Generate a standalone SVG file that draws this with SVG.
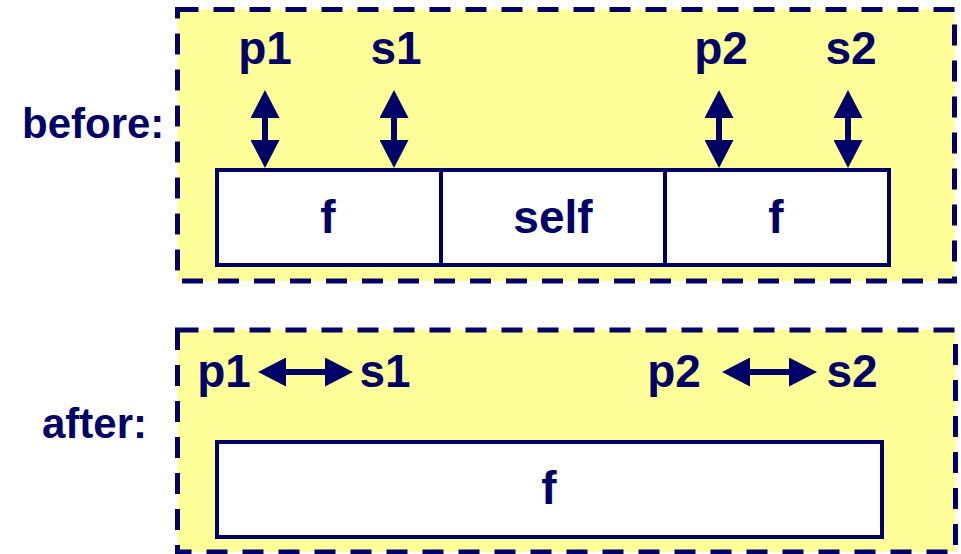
<svg xmlns="http://www.w3.org/2000/svg" width="961" height="554" viewBox="0 0 961 554">
<defs>
<style>
.panel{fill:#FFFF99;stroke:#000066;stroke-width:5;stroke-dasharray:21 15}
.box{fill:#FFFFFF;stroke:#000066;stroke-width:4}
.t{font-family:"Liberation Sans",Arial,sans-serif;font-weight:bold;font-size:46px;fill:#000066}
.s{font-size:42px}
.m{text-anchor:middle}
.conn{stroke:#000066;stroke-width:6;fill:none;marker-start:url(#ah);marker-end:url(#ah)}
</style>
<marker id="ah" viewBox="0 0 28 29" refX="18" refY="14.5" markerWidth="28" markerHeight="29" markerUnits="userSpaceOnUse" orient="auto-start-reverse">
<path d="M0,0 L28,14.5 L0,29 z" fill="#000066"/>
</marker>
</defs>
<rect width="961" height="554" fill="#FFFFFF"/>
<g id="panel-before">
<rect class="panel" x="177.5" y="9.5" width="777" height="271.5"/>
</g>
<g id="panel-after">
<rect class="panel" x="177.5" y="330" width="778" height="222"/>
</g>
<g id="label-before"><text class="t s" x="22" y="138">before:</text></g>
<g id="label-after"><text class="t s" x="42" y="438">after:</text></g>
<g id="box-f1"><rect class="box" x="217" y="170" width="224" height="95"/><text class="t m" x="328" y="233">f</text></g>
<g id="box-self"><rect class="box" x="441" y="170" width="224" height="95"/><text class="t m" x="553" y="233">self</text></g>
<g id="box-f2"><rect class="box" x="665" y="170" width="224" height="95"/><text class="t m" x="776" y="233">f</text></g>
<g id="box-f-after"><rect class="box" x="217" y="442" width="665" height="95"/><text class="t m" x="549" y="504">f</text></g>
<g id="lbl-p1-before"><text class="t m" x="265" y="64">p1</text></g>
<g id="lbl-s1-before"><text class="t m" x="396" y="64">s1</text></g>
<g id="lbl-p2-before"><text class="t m" x="721" y="64">p2</text></g>
<g id="lbl-s2-before"><text class="t m" x="851" y="64">s2</text></g>
<g id="lbl-p1-after"><text class="t m" x="224" y="387">p1</text></g>
<g id="lbl-s1-after"><text class="t m" x="385" y="387">s1</text></g>
<g id="lbl-p2-after"><text class="t m" x="674" y="387">p2</text></g>
<g id="lbl-s2-after"><text class="t m" x="852" y="387">s2</text></g>
<g id="connectors">
<line class="conn" x1="265" y1="100" x2="265" y2="158"/>
<line class="conn" x1="394" y1="100" x2="394" y2="158"/>
<line class="conn" x1="719" y1="100" x2="719" y2="158"/>
<line class="conn" x1="848" y1="100" x2="848" y2="158"/>
<line class="conn" x1="268" y1="372" x2="343" y2="372"/>
<line class="conn" x1="732" y1="372" x2="807" y2="372"/>
</g>
</svg>
